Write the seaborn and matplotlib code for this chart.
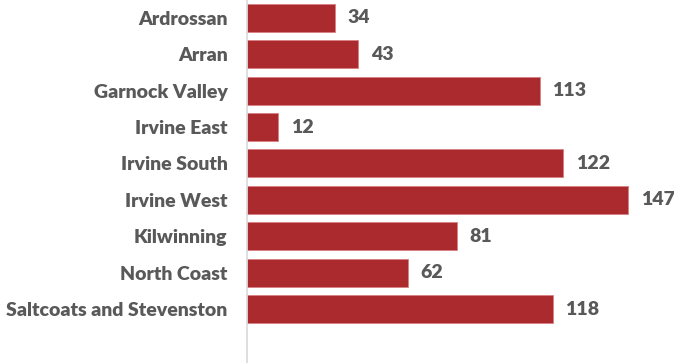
import pandas as pd
import matplotlib.pyplot as plt
import seaborn as sns

areas = ["Ardrossan", "Arran", "Garnock Valley", "Irvine East", "Irvine South",
         "Irvine West", "Kilwinning", "North Coast", "Saltcoats and Stevenston"]
counts = [34, 43, 113, 12, 122, 147, 81, 62, 118]

df = pd.DataFrame({"area": areas, "count": counts})

sns.set_style("white")
plt.rcParams['font.family'] = ['Lato', 'DejaVu Sans']

fig = plt.figure(figsize=(6.74, 3.63), dpi=100)
ax = fig.add_axes([247 / 674, 0, 1 - 247 / 674, 1])

sns.barplot(data=df, x="count", y="area", color="#AB2A2D", saturation=1,
            width=0.77, edgecolor="#D97F82", linewidth=0.6, ax=ax)

# value labels at bar ends
for c in ax.containers:
    ax.bar_label(c, padding=9, fontsize=14, fontweight="heavy", color="#595959")

ax.set_xlim(0, 164.7)
ax.set_ylim(9.48, -0.49)
ax.set_xlabel("")
ax.set_ylabel("")
ax.set_xticks([])
ax.tick_params(axis="y", length=0, pad=14)
for lab in ax.get_yticklabels():
    lab.set_fontsize(14)
    lab.set_fontweight("heavy")
    lab.set_color("#595959")

for s in ["top", "right", "bottom"]:
    ax.spines[s].set_visible(False)
ax.spines["left"].set_color("#D9D9D9")
ax.spines["left"].set_linewidth(1.2)

plt.savefig("out.png", dpi=100)
